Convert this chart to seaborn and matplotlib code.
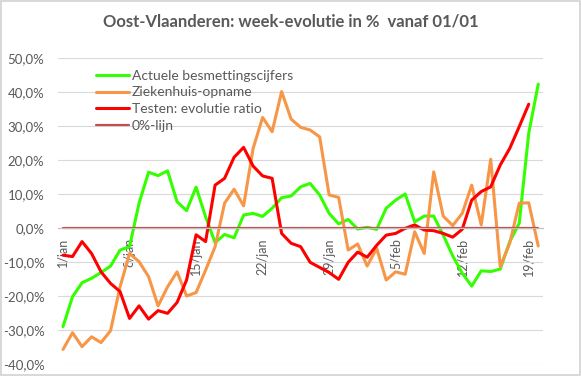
import numpy as np
import pandas as pd
import seaborn as sns
import matplotlib.pyplot as plt
from matplotlib.ticker import FuncFormatter

### data: week-evolutie in %, dagelijks vanaf 1/jan tot 20/feb
besmettingen = [-28.9, -20.1, -16.0, -14.7, -13.0, -11.1, -6.4, -5.4, 7.4, 16.5,
                15.5, 16.9, 7.8, 5.2, 12.1, 3.4, -4.2, -1.8, -2.8, 3.9,
                4.4, 3.5, 5.9, 9.0, 9.5, 12.2, 13.2, 9.8, 4.4, 1.3,
                2.6, -0.2, 0.3, -0.3, 5.9, 8.3, 10.1, 1.9, 3.6, 3.6,
                -2.0, -8.1, -13.2, -17.0, -12.5, -12.7, -12.0, -3.9, 1.5, 28.0,
                42.4]
ziekenhuis = [-35.6, -30.7, -34.8, -31.9, -33.6, -30.1, -17.2, -7.4, -9.8, -14.2,
              -22.8, -17.2, -12.8, -19.9, -18.9, -12.3, -5.4, 7.4, 11.5, 6.6,
              23.5, 32.6, 28.4, 40.2, 32.1, 29.7, 28.9, 26.9, 9.8, 9.1,
              -6.4, -4.6, -11.1, -5.9, -15.2, -12.8, -13.5, -1.0, -7.4, 16.6,
              3.6, 0.8, 4.4, 12.7, 1.0, 20.3, -11.3, -4.4, 7.4, 7.5,
              -5.2]
testen = [-7.9, -8.3, -3.9, -7.4, -12.8, -16.2, -18.6, -26.5, -22.8, -26.7,
          -24.2, -25.0, -21.8, -15.2, -1.9, -3.9, 12.7, 14.7, 20.9, 23.8,
          18.3, 15.4, 14.7, -1.5, -4.4, -5.4, -10.0, -11.5, -13.0, -15.0,
          -10.0, -7.0, -8.5, -5.0, -2.0, -1.5, 0.0, 1.0, -0.5, -0.7,
          -1.5, -2.6, -0.3, 8.3, 10.8, 12.2, 18.6, 23.5, 29.9, 36.5,
          np.nan]
nullijn = [0.0] * len(besmettingen)

datum_labels = ['1/jan', '8/jan', '15/jan', '22/jan', '29/jan', '5/feb', '12/feb', '19/feb']

df = pd.DataFrame({'dag': range(len(besmettingen)),
                   'besmet': besmettingen,
                   'zkh': ziekenhuis,
                   'test': testen,
                   'nul': nullijn})

sns.set_style('white')
plt.rcParams['font.family'] = ['Lato', 'DejaVu Sans']
grijs = '#595959'

fig, ax = plt.subplots(figsize=(5.81, 3.76), dpi=100)
fig.subplots_adjust(left=0.1003, right=0.9346, top=0.845, bottom=0.031)
fig.patch.set_edgecolor('#D9D9D9')
fig.patch.set_linewidth(1.5)

# lijnen
sns.lineplot(data=df, x='dag', y='besmet', color='#33FF00', lw=2.2, label='Actuele besmettingscijfers', ax=ax)
sns.lineplot(data=df, x='dag', y='zkh', color='#F79646', lw=2.2, label='Ziekenhuis-opname', ax=ax)
sns.lineplot(data=df.dropna(), x='dag', y='test', color='#FF0000', lw=2.2, label='Testen: evolutie ratio', ax=ax)
sns.lineplot(data=df, x='dag', y='nul', color='#C0504D', lw=1.6, label='0%-lijn', ax=ax)

# assen
ax.set_xlim(-0.5, len(besmettingen) - 0.5)
ax.set_ylim(-40, 50)
ax.set_yticks(range(-40, 51, 10))
ax.yaxis.set_major_formatter(FuncFormatter(lambda v, p: f'{v:.1f}%'.replace('.', ',')))
ax.yaxis.grid(True, color='#D9D9D9', lw=0.8)
ax.set_axisbelow(True)
ax.set_xlabel('')
ax.set_ylabel('')

for s in ['left', 'right', 'top']:
    ax.spines[s].set_visible(False)
ax.spines['bottom'].set_position(('data', 0))
ax.spines['bottom'].set_color('#BFBFBF')

pos = list(range(0, len(besmettingen), 7))
ax.set_xticks(pos)
ax.set_xticklabels(datum_labels, rotation=90, va='top', ha='center')
ax.set_xticks([p - 0.5 for p in pos], minor=True)
ax.tick_params(axis='x', which='major', length=0, pad=7, labelsize=9, labelcolor=grijs)
ax.tick_params(axis='x', which='minor', length=4, color='#BFBFBF', direction='out')
ax.tick_params(axis='y', length=0, pad=10, labelsize=9.5, labelcolor=grijs)

ax.legend(loc='upper left', bbox_to_anchor=(0.165, 0.815), bbox_transform=fig.transFigure,
          frameon=False, fontsize=10, handlelength=2.4, handletextpad=0.2,
          labelspacing=0.35, borderaxespad=0, borderpad=0, labelcolor=grijs)

fig.suptitle('Oost-Vlaanderen: week-evolutie in %  vanaf 01/01', fontsize=12,
             fontweight='bold', color=grijs, y=0.965)

plt.savefig('out.png', dpi=100)
plt.close()
